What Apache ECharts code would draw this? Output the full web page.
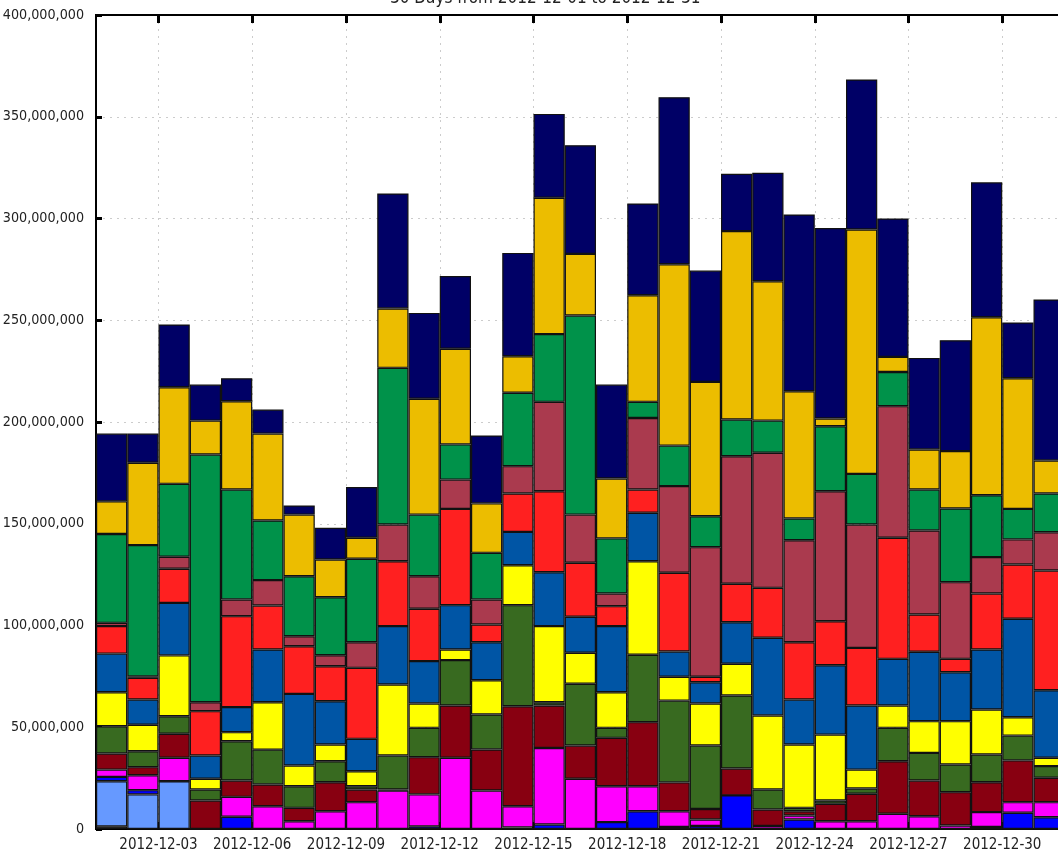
<!DOCTYPE html>
<html>
<head>
<meta charset="utf-8">
<script src="https://cdn.jsdelivr.net/npm/echarts@6/dist/echarts.min.js"></script>
<style>
  html, body { margin: 0; padding: 0; background: #fff; }
  #chart { width: 1058px; height: 856px; }
</style>
</head>
<body>
<div id="chart"></div>
<script>
// days of December 2012 (each bar starts at its day, tick labels every 3 days)
var days = ["2012-12-01", "2012-12-02", "2012-12-03", "2012-12-04", "2012-12-05", "2012-12-06", "2012-12-07", "2012-12-08",
  "2012-12-09", "2012-12-10", "2012-12-11", "2012-12-12", "2012-12-13", "2012-12-14", "2012-12-15", "2012-12-16",
  "2012-12-17", "2012-12-18", "2012-12-19", "2012-12-20", "2012-12-21", "2012-12-22", "2012-12-23", "2012-12-24",
  "2012-12-25", "2012-12-26", "2012-12-27", "2012-12-28", "2012-12-29", "2012-12-30", "2012-12-31"];
var tickDays = [3, 6, 9, 12, 15, 18, 21, 24, 27, 30];

// values in millions, stacked bottom -> top
var sGray = [1.3, 0, 0, 0, 0, 0, 0, 0, 0, 0, 0, 0, 0, 0, 0, 0, 0, 0, 0, 0, 0, 0, 0, 0, 0, 0, 0, 0, 0, 0, 0];
var sLightBlue = [22.2, 17, 23.5, 0, 0, 0, 0, 0, 0, 0, 0, 0, 0, 0, 0, 0, 0, 0, 0, 0, 0, 0, 0, 0, 0, 0, 0, 0, 0, 0, 0];
var sBlue = [2.1, 2.1, 0, 0, 6, 0, 0, 0, 0, 0, 1.3, 0, 0, 0.8, 2.2, 0, 3.4, 8.7, 1, 1.5, 16.5, 0, 4.7, 0, 0, 0, 0, 0, 1, 8, 5.8];
var sMagenta = [3.6, 7.3, 11.5, 0, 9.8, 11.2, 3.8, 8.7, 13.2, 18.9, 15.7, 35, 18.9, 10.4, 37.6, 24.7, 17.6, 12.3, 7.7, 3.2, 0, 1.5, 1.9, 3.8, 3.8, 7.5, 6.3, 1.7, 7.3, 5.2, 7.4];
var sDarkRed = [7.9, 4, 11.8, 14, 8, 10.7, 6.6, 14.3, 6.2, 0.5, 18.3, 25.7, 20.2, 49.1, 20.9, 16.3, 23.8, 31.5, 14.2, 5.1, 13.2, 8.1, 2.1, 8.6, 13.5, 25.8, 17.5, 16.4, 14.7, 20.5, 12];
var sOlive = [13.4, 7.8, 8.6, 5.4, 19.3, 17.1, 10.6, 10.3, 1.6, 16.7, 14.4, 22.3, 17.2, 49.7, 1.6, 30.4, 4.9, 33.1, 40.2, 31.2, 35.9, 9.8, 1.7, 1.6, 2.6, 16.4, 13.6, 13.6, 13.6, 12.2, 5.7];
var sYellow = [16.7, 13, 29.9, 5.3, 4.5, 23.3, 10.2, 8.2, 7.4, 34.9, 12, 5.2, 16.8, 19.6, 37.4, 15.2, 17.5, 46, 11.7, 20.7, 15.6, 36.4, 31.1, 32.4, 9.3, 11, 15.6, 21.3, 22.1, 9, 4.1];
var sMidBlue = [19, 12.4, 25.8, 11.4, 12.3, 25.9, 35.2, 21.3, 15.9, 28.7, 20.8, 21.8, 18.7, 16.4, 26.5, 17.7, 32.5, 23.8, 12.4, 10.4, 20.4, 38.2, 22.1, 34.1, 31.5, 22.9, 34.1, 24, 29.5, 48.4, 33.2];
var sRed = [13.5, 10.7, 16.8, 21.8, 44.7, 21.6, 23.4, 17.2, 34.9, 31.9, 25.7, 47.3, 8.7, 18.9, 39.8, 26.5, 9.8, 11.4, 38.7, 2.7, 18.9, 24.5, 28.2, 21.6, 28.3, 59.5, 18.3, 6.6, 27.5, 26.7, 58.8];
var sRose = [1.6, 0.7, 5.9, 4.4, 8.2, 12.5, 4.9, 5.4, 12.6, 18, 16, 14.4, 12.3, 13.4, 43.9, 23.7, 6.2, 35.2, 42.6, 63.7, 62.7, 66.4, 50.1, 63.9, 60.6, 64.7, 41.3, 37.7, 17.9, 12.3, 18.8];
var sGreen = [43.7, 64.5, 35.8, 121.7, 54, 29.3, 29.5, 28.5, 41, 77, 30.3, 17.3, 22.9, 36.1, 33.3, 97.8, 27.1, 7.9, 19.9, 15.2, 18, 15.8, 10.7, 31.9, 24.9, 16.8, 20.1, 36.2, 30.4, 15, 19.1];
var sGold = [16, 40.5, 47.5, 16.7, 43.4, 42.7, 30.3, 18.5, 10.3, 29.2, 56.9, 47, 24.3, 17.9, 67, 30.3, 29.4, 52.4, 89.1, 66, 92.6, 68.5, 62.5, 3.8, 120.1, 7.4, 19.7, 28.2, 87.5, 64.2, 16.2];
var sNavy = [33.3, 14.3, 30.8, 17.7, 11.3, 11.8, 4.5, 15.6, 24.9, 56.5, 42.2, 35.7, 33.4, 50.8, 41.2, 53.4, 46.2, 45.1, 82.1, 54.7, 28.2, 53.3, 86.9, 93.6, 73.7, 68, 45, 54.5, 66.3, 27.4, 79.1];

var seriesList = [
  ["gray", sGray, "#555555"],
  ["lightblue", sLightBlue, "#6699ff"],
  ["blue", sBlue, "#0000ff"],
  ["magenta", sMagenta, "#ff00ff"],
  ["darkred", sDarkRed, "#880011"],
  ["olive", sOlive, "#386a20"],
  ["yellow", sYellow, "#ffff00"],
  ["midblue", sMidBlue, "#0055a5"],
  ["red", sRed, "#ff2020"],
  ["rose", sRose, "#aa3a4e"],
  ["green", sGreen, "#00924a"],
  ["gold", sGold, "#ecbd00"],
  ["navy", sNavy, "#000066"],
];

var font = "'DejaVu Sans Condensed', 'Liberation Sans Narrow', 'DejaVu Sans', sans-serif";

function pad(n) {
  return n < 10 ? "0" + n : "" + n;
}

var chart = echarts.init(document.getElementById("chart"));

// one category per day, 31.25px each; the plot runs past the right edge
var dayWidth = 31.25;
var gridLeft = 96;
var gridRight = 1058 - gridLeft - days.length * dayWidth;
var xMin = 1;
var xMax = 1 + days.length;

var series = seriesList.map(function (s) {
  return {
    name: s[0],
    type: "bar",
    stack: "total",
    xAxisIndex: 0,
    barCategoryGap: "0%",
    itemStyle: { color: s[2], borderColor: "#111", borderWidth: 1.2 },
    data: s[1],
  };
});

var dotted = { color: "#cccccc", type: [2, 5], width: 1 };

var option = {
  animation: false,
  title: {
    text: "30 Days from 2012-12-01 to 2012-12-31",
    left: 385,
    top: -15,
    textStyle: { fontFamily: font, fontSize: 17, fontWeight: "normal", color: "#222" },
  },
  grid: {
    left: gridLeft,
    right: gridRight,
    top: 15,
    bottom: 27,
    outerBoundsMode: "none",
    show: true,
    borderColor: "#000",
    borderWidth: 2,
    backgroundColor: "#fff",
  },
  xAxis: [
    {
      // bars
      type: "category",
      data: days,
      position: "bottom",
      boundaryGap: true,
      axisLine: { show: false },
      axisTick: { show: false },
      axisLabel: { show: false },
      splitLine: { show: false },
    },
    {
      // date ticks, labels and vertical grid lines
      type: "value",
      min: xMin,
      max: xMax,
      position: "bottom",
      axisLine: { lineStyle: { color: "#000", width: 2 } },
      axisTick: { inside: true, length: 7, customValues: tickDays, lineStyle: { color: "#000", width: 3 } },
      axisLabel: {
        customValues: tickDays,
        formatter: function (v) {
          return "2012-12-" + pad(v);
        },
        fontFamily: font,
        fontSize: 15,
        color: "#222",
        margin: 9,
      },
      splitLine: { show: true, lineStyle: dotted },
    },
    {
      type: "value",
      min: xMin,
      max: xMax,
      position: "top",
      axisLine: { lineStyle: { color: "#000", width: 2 } },
      axisTick: { inside: true, length: 8, customValues: tickDays, lineStyle: { color: "#000", width: 3 } },
      axisLabel: { show: false },
      splitLine: { show: false },
    },
  ],
  yAxis: {
    type: "value",
    min: 0,
    max: 400,
    interval: 50,
    axisLine: { show: true, lineStyle: { color: "#000", width: 2 } },
    axisTick: { show: true, inside: true, length: 6, lineStyle: { color: "#000", width: 3 } },
    axisLabel: {
      formatter: function (v) {
        return (v * 1000000).toLocaleString("en-US");
      },
      fontFamily: font,
      fontSize: 14.2,
      color: "#222",
      margin: 12,
    },
    splitLine: { show: true, lineStyle: dotted },
  },
  series: series,
};

chart.setOption(option);
</script>
</body>
</html>
